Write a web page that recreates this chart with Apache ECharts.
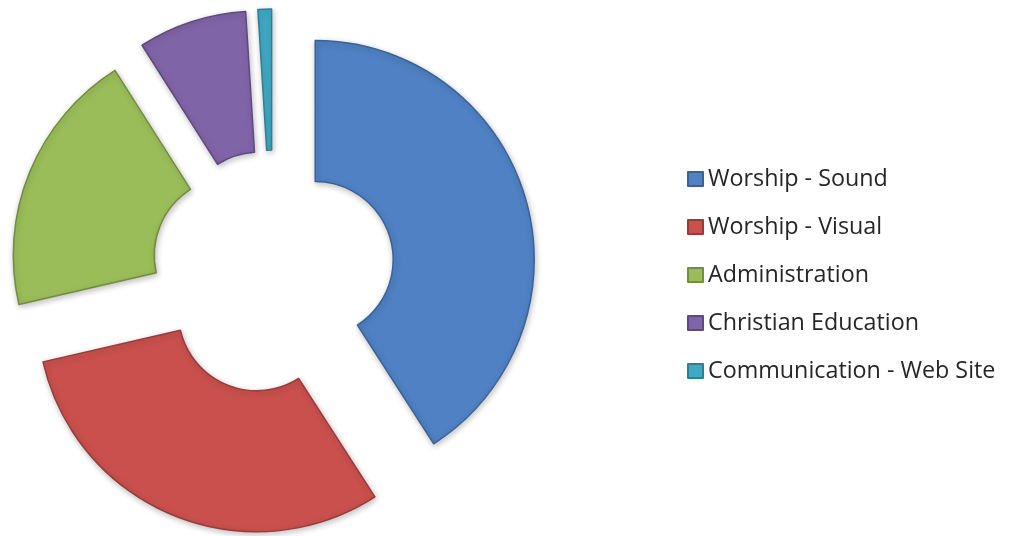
<!DOCTYPE html>
<html>
<head>
<meta charset="utf-8">
<script src="https://cdn.jsdelivr.net/npm/echarts@6/dist/echarts.min.js"></script>
<style>html,body{margin:0;padding:0;background:#fff;}#c{width:1013px;height:536px;}</style>
</head>
<body>
<div id="c"></div>
<script>
var categories = ['Worship - Sound', 'Worship - Visual', 'Administration', 'Christian Education', 'Communication - Web Site'];
var values = [40.9, 30.5, 19.6, 8.0, 1.0];
var colors = ['#4F81C4', '#C9504D', '#9BBD59', '#8064A8', '#3FA9C4'];
var borders = ['#3A6296', '#963C3A', '#728C40', '#5E4A7E', '#2E7F94'];

var chart = echarts.init(document.getElementById('c'));
var data = categories.map(function (n, i) {
  return {
    name: n, value: values[i], selected: true,
    itemStyle: { color: colors[i], borderColor: borders[i], borderWidth: 1.5,
      shadowBlur: 6, shadowColor: 'rgba(0,0,0,0.25)', shadowOffsetX: 1, shadowOffsetY: 2 }
  };
});
chart.setOption({
  animation: false,
  legend: {
    orient: 'vertical', left: 682, top: 160,
    icon: 'rect', itemWidth: 15, itemHeight: 14, itemGap: 20,
    textStyle: { fontFamily: 'Open Sans', fontSize: 23.3, color: '#262626', lineHeight: 28 },
    selectedMode: false,
    data: categories
  },
  series: [{
    type: 'pie',
    center: [273, 272],
    radius: [78, 219],
    startAngle: 90,
    clockwise: true,
    selectedMode: 'multiple',
    selectedOffset: 44,
    label: { show: false }, labelLine: { show: false },
    emphasis: { disabled: true },
    data: data
  }]
});
</script>
</body>
</html>
